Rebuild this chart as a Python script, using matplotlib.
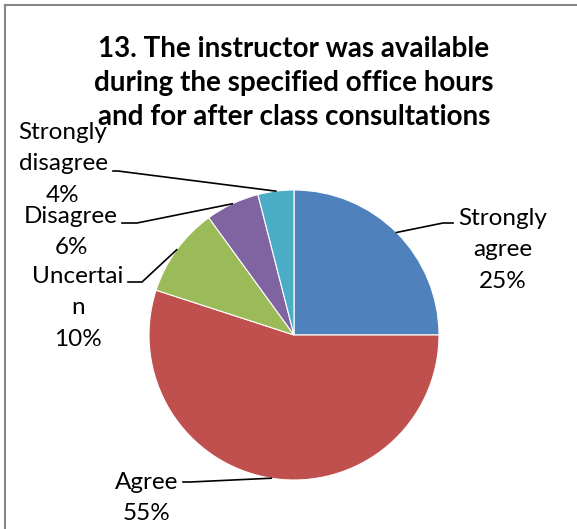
import numpy as np
import matplotlib.pyplot as plt

plt.rcParams['font.family'] = ['Lato', 'DejaVu Sans']

# survey answers
categories = ['Strongly\nagree', 'Agree', 'Uncertai\nn', 'Disagree', 'Strongly\ndisagree']
shares = [25, 55, 10, 6, 4]
colors = ['#4F81BD', '#C0504D', '#9BBB59', '#8064A2', '#4BACC6']
title = '13. The instructor was available\nduring the specified office hours\nand for after class consultations'

W, H = 577, 529
CX, CY, R = 294, 335, 145  # pie centre and radius in pixels


def px(x, y):
    # pixel position -> data units of the pie axes
    return (x - CX) / R, (CY - y) / R


fig = plt.figure(figsize=(W / 100, H / 100), dpi=100)
ax = fig.add_axes([0, 0, 1, 1])
wedges, _ = ax.pie(shares, colors=colors, startangle=90, counterclock=False,
                   radius=1, wedgeprops=dict(linewidth=0.8, edgecolor='white'))
ax.set_xlim(-CX / R, (W - CX) / R)
ax.set_ylim(-(H - CY) / R, CY / R)
ax.set_aspect('equal')
ax.axis('off')

# label block centre, elbow and end of leader line (pixels)
label_pos = [(503, 250), (147, 498), (78, 308), (71, 232), (63, 164)]
elbows = [(443, 223), (190, 482), (142, 282), (137, 223), (118, 171)]
line_ends = [(453, 223), (183, 482), (128, 282), (122, 223), (113, 171)]

for w, name, val, lp, el, le in zip(wedges, categories, shares, label_pos, elbows, line_ends):
    mid = np.deg2rad((w.theta1 + w.theta2) / 2)
    x0, y0 = np.cos(mid), np.sin(mid)
    x1, y1 = px(*el)
    x2, y2 = px(*le)
    ax.plot([x0, x1, x2], [y0, y1, y2], color='black', lw=1.2, clip_on=False)
    tx, ty = px(*lp)
    ax.text(tx, ty, f'{name}\n{val}%', ha='center', va='center', fontsize=17.5,
            linespacing=1.6, color='black')

fig.text(294 / W, 1 - 83 / H, title, ha='center', va='center', fontsize=20,
         fontweight='bold', linespacing=1.38)

# chart area border (only top and left edges fall inside the picture)
fig.add_artist(plt.Line2D([5 / W, 5 / W], [0, 1 - 5 / H], color='#868686', lw=1.5))
fig.add_artist(plt.Line2D([5 / W, 1], [1 - 5 / H, 1 - 5 / H], color='#868686', lw=1.5))

fig.savefig('out.png', dpi=100)
